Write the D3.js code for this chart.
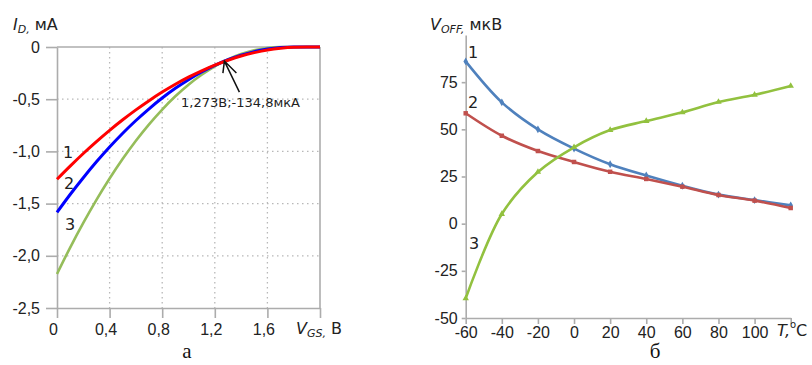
<!DOCTYPE html>
<html>
<head>
<meta charset="utf-8">
<script src="https://cdn.jsdelivr.net/npm/d3@7"></script>
<style>
  body { margin: 0; background: #fff; }
  svg { font-family: "DejaVu Sans", sans-serif; }
  .axis path, .axis line { stroke: #acacac; stroke-width: 1.6; }
  .axis text { fill: #222; }
</style>
</head>
<body>
<svg id="chart" width="812" height="365"></svg>
<script>
// ---- panel (a): I_D vs V_GS, three devices
const vgs = [0, 0.1, 0.2, 0.3, 0.4, 0.5, 0.6, 0.7, 0.8, 0.9, 1.0,
             1.1, 1.2, 1.3, 1.4, 1.5, 1.6, 1.7, 1.8, 1.9, 2.0];
const id1 = [-1.267, -1.141, -1.020, -0.906, -0.798, -0.697, -0.602, -0.514, -0.432, -0.357, -0.289,
             -0.228, -0.174, -0.127, -0.086, -0.054, -0.028, -0.011, -0.002, 0, 0];
const id2 = [-1.584, -1.413, -1.252, -1.100, -0.958, -0.826, -0.704, -0.592, -0.489, -0.396, -0.313,
             -0.240, -0.176, -0.122, -0.078, -0.044, -0.020, -0.005, 0, 0, 0];
const id3 = [-2.174, -1.921, -1.685, -1.464, -1.260, -1.071, -0.898, -0.741, -0.599, -0.472, -0.361,
             -0.266, -0.185, -0.119, -0.068, -0.031, -0.009, -0.001, 0, 0, 0];
const idTicks = [0, -0.5, -1.0, -1.5, -2.0, -2.5];
const vgsTicks = [0, 0.4, 0.8, 1.2, 1.6, 2.0];
const marker = { v: 1.273, i: -0.1348, text: "1,273В;-134,8мкА" };

// ---- panel (b): V_OFF vs temperature
const temps = [-60, -40, -20, 0, 20, 40, 60, 80, 100, 120];
const voff1 = [86, 64.3, 50, 39.8, 31.5, 25.5, 20.1, 15.4, 12.5, 9.7];
const voff2 = [58.5, 46.6, 38.5, 32.7, 27.5, 23.7, 19.6, 15.2, 12.2, 8.3];
const voff3 = [-39.6, 5.1, 27.4, 40.5, 49.6, 54.4, 59, 64.5, 68.3, 73];
const voffTicks = [75, 50, 25, 0, -25, -50];

const svg = d3.select("#chart");
const loc = d3.formatLocale({ decimal: ",", thousands: " ", grouping: [3], currency: ["", ""], minus: "-" });
const f1 = loc.format(".1f");
const f0 = loc.format("d");

// ================= panel (a)
const xa = d3.scaleLinear().domain([0, 2]).range([57, 320]);
const ya = d3.scaleLinear().domain([0, -2.5]).range([47, 308]);
const ga = svg.append("g");

// dotted grid
ga.selectAll("line.gx").data(vgsTicks.slice(1, -1)).enter().append("line")
  .attr("x1", d => xa(d)).attr("x2", d => xa(d)).attr("y1", ya(0)).attr("y2", ya(-2.5))
  .attr("stroke", "#b8b8b8").attr("stroke-width", 1.3).attr("stroke-dasharray", "1.5,3.5");
ga.selectAll("line.gy").data(idTicks.slice(1, -1)).enter().append("line")
  .attr("x1", xa(0)).attr("x2", xa(2)).attr("y1", d => ya(d)).attr("y2", d => ya(d))
  .attr("stroke", "#b8b8b8").attr("stroke-width", 1.3).attr("stroke-dasharray", "1.5,3.5");

// frame top and right
ga.append("line").attr("x1", xa(0)).attr("x2", xa(2)).attr("y1", ya(0)).attr("y2", ya(0))
  .attr("stroke", "#acacac").attr("stroke-width", 1.6);
ga.append("line").attr("x1", xa(2)).attr("x2", xa(2)).attr("y1", ya(0)).attr("y2", ya(-2.5))
  .attr("stroke", "#acacac").attr("stroke-width", 1.6);

ga.append("g").attr("class", "axis")
  .attr("transform", `translate(${xa(0)},0)`)
  .call(d3.axisLeft(ya).tickValues(idTicks).tickSize(11).tickSizeOuter(0).tickPadding(6)
    .tickFormat(d => d === 0 ? "0" : f1(d)))
  .call(g => g.selectAll("text").attr("font-size", 16));

ga.append("g").attr("class", "axis")
  .attr("transform", `translate(0,${ya(-2.5)})`)
  .call(d3.axisBottom(xa).tickValues(vgsTicks).tickSize(10).tickSizeOuter(0).tickPadding(6)
    .tickFormat(d => d === 0 ? "0" : (d >= 2 ? "" : f1(d))))
  .call(g => g.selectAll("text").attr("font-size", 16).attr("dx", -4));

const lineA = d3.line().x((d, i) => xa(vgs[i])).y(d => ya(d)).curve(d3.curveMonotoneX);
[[id3, "#95bd5a", 2.6], [id2, "#0000ff", 3], [id1, "#ff0000", 3]].forEach(([s, c, w]) => {
  ga.append("path").datum(s).attr("d", lineA)
    .attr("fill", "none").attr("stroke", c).attr("stroke-width", w);
});

// curve numbers
[["1", 68, 158], ["2", 69, 189], ["3", 70, 230]].forEach(([t, x, y]) => {
  ga.append("text").attr("x", x).attr("y", y).attr("text-anchor", "middle")
    .attr("font-size", 16).attr("fill", "#222").text(t);
});

// annotation arrow
const ax = xa(marker.v), ay = ya(marker.i);
ga.append("path")
  .attr("d", `M${ax + 15},${ay + 31}L${ax},${ay} M${ax - 1.5},${ay + 12}L${ax},${ay}L${ax + 12},${ay + 12}`)
  .attr("fill", "none").attr("stroke", "#111").attr("stroke-width", 1.5);
ga.append("text").attr("x", 181).attr("y", 107).attr("font-size", 13).attr("fill", "#222")
  .text(marker.text);

// axis titles
const ta = ga.append("text").attr("x", 13).attr("y", 30).attr("font-size", 16).attr("fill", "#222");
ta.append("tspan").attr("font-style", "italic").text("I");
ta.append("tspan").attr("font-style", "italic").attr("font-size", 11).attr("dy", 3).text("D,");
ta.append("tspan").attr("dy", -3).text(" мА");

const tx = ga.append("text").attr("x", 296).attr("y", 334).attr("font-size", 16).attr("fill", "#222");
tx.append("tspan").attr("font-style", "italic").text("V");
tx.append("tspan").attr("font-style", "italic").attr("font-size", 11).attr("dy", 3).text("GS,");
tx.append("tspan").attr("dy", -3).text(" В");

svg.append("text").attr("x", 187).attr("y", 358).attr("text-anchor", "middle")
  .attr("font-family", "Liberation Serif, serif").attr("font-size", 21).attr("fill", "#111").text("а");

// ================= panel (b)
const xb = d3.scaleLinear().domain([-60, 120]).range([465.7, 790.7]);
const yb = d3.scaleLinear().domain([-50, 100]).range([318, 35]);
const gb = svg.append("g");

gb.append("g").attr("class", "axis")
  .attr("transform", `translate(${xb(-60)},0)`)
  .call(d3.axisLeft(yb).tickValues(voffTicks).tickSize(4).tickSizeOuter(0).tickPadding(4)
    .tickFormat(f0))
  .call(g => g.selectAll("text").attr("font-size", 16));

gb.append("g").attr("class", "axis")
  .attr("transform", `translate(0,${yb(-50)})`)
  .call(d3.axisBottom(xb).tickValues(temps).tickSize(6).tickSizeOuter(0).tickPadding(3)
    .tickFormat(d => d === 120 ? "" : f0(d)))
  .call(g => g.selectAll("text").attr("font-size", 16));

const lineB = d3.line().x((d, i) => xb(temps[i])).y(d => yb(d)).curve(d3.curveCatmullRom.alpha(0.5));
const seriesB = [
  [voff1, "#4f81bd", d3.symbolDiamond, 18],
  [voff2, "#c0504d", d3.symbolSquare, 20],
  [voff3, "#92c13f", d3.symbolTriangle, 18]
];
seriesB.forEach(([s, c, sym, sz]) => {
  gb.append("path").datum(s).attr("d", lineB)
    .attr("fill", "none").attr("stroke", c).attr("stroke-width", 2.6);
  gb.selectAll(null).data(s).enter().append("path")
    .attr("transform", (d, i) => `translate(${xb(temps[i])},${yb(d)})`)
    .attr("d", d3.symbol().type(sym).size(sz)).attr("fill", c);
});

[["1", 473, 58], ["2", 473, 108], ["3", 474, 249]].forEach(([t, x, y]) => {
  gb.append("text").attr("x", x).attr("y", y).attr("text-anchor", "middle")
    .attr("font-size", 16).attr("fill", "#222").text(t);
});

const tb = gb.append("text").attr("x", 430).attr("y", 30).attr("font-size", 16).attr("fill", "#222");
tb.append("tspan").attr("font-style", "italic").text("V");
tb.append("tspan").attr("font-style", "italic").attr("font-size", 11).attr("dy", 3).text("OFF,");
tb.append("tspan").attr("dy", -3).text(" мкВ");

const tt = gb.append("text").attr("x", 777).attr("y", 336).attr("font-size", 16).attr("fill", "#222");
tt.append("tspan").attr("font-style", "italic").text("T,");
tt.append("tspan").attr("font-size", 10).attr("dy", -8).text("o");
tt.append("tspan").attr("dy", 8).text("C");

svg.append("text").attr("x", 655).attr("y", 358).attr("text-anchor", "middle")
  .attr("font-family", "Liberation Serif, serif").attr("font-size", 21).attr("fill", "#111").text("б");
</script>
</body>
</html>
